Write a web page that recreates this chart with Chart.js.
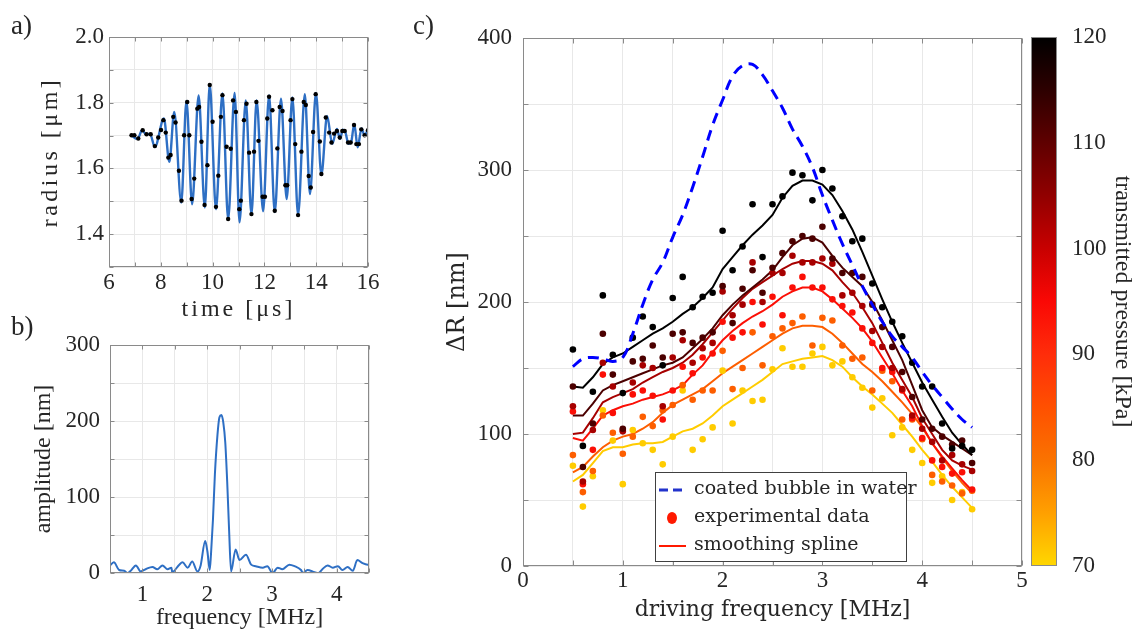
<!DOCTYPE html>
<html><head><meta charset="utf-8">
<script src="https://cdn.jsdelivr.net/npm/chart.js@4.4.1/dist/chart.umd.min.js"></script>
<style>
html,body{margin:0;padding:0;background:#fff;width:1137px;height:631px;overflow:hidden}
canvas{position:absolute;left:0;top:0}
.lab{position:absolute;font-family:'Liberation Serif',serif;font-size:27px;color:#262626;line-height:1}
</style></head><body>
<canvas id="ca" width="1137" height="631"></canvas>
<canvas id="cb" width="1137" height="631"></canvas>
<canvas id="cc" width="1137" height="631"></canvas>
<canvas id="cbar" width="1137" height="631"></canvas>
<div class="lab" style="left:11px;top:12px">a)</div>
<div class="lab" style="left:11px;top:313px">b)</div>
<div class="lab" style="left:413px;top:12px">c)</div>
<script>
// ================= DATA =================
// ---- panel a: radius-time curve ----
const aSampleTime = [6.87,6.98,7.13,7.30,7.45,7.61,7.77,7.90,8.01,8.10,8.19,8.29,8.38,8.48,8.57,8.70,8.80,8.90,9.02,9.10,9.19,9.29,9.41,9.48,9.57,9.69,9.80,9.89,10.00,10.13,10.22,10.32,10.38,10.54,10.60,10.70,10.79,10.90,11.03,11.09,11.21,11.31,11.41,11.50,11.60,11.69,11.77,11.93,12.02,12.11,12.18,12.31,12.40,12.50,12.59,12.70,12.81,12.88,13.01,13.08,13.19,13.30,13.43,13.52,13.60,13.71,13.79,13.88,13.98,14.14,14.20,14.37,14.50,14.59,14.69,14.80,14.91,15.01,15.10,15.23,15.33,15.46,15.55,15.65,15.74,15.87,16.00];
const aSampleRadius = [1.701,1.701,1.691,1.716,1.704,1.704,1.668,1.694,1.717,1.747,1.709,1.633,1.641,1.757,1.740,1.593,1.502,1.701,1.802,1.701,1.507,1.569,1.782,1.787,1.681,1.489,1.610,1.854,1.742,1.483,1.578,1.757,1.823,1.666,1.446,1.660,1.807,1.772,1.476,1.502,1.747,1.797,1.648,1.461,1.651,1.802,1.684,1.514,1.514,1.752,1.818,1.777,1.471,1.661,1.787,1.775,1.549,1.549,1.747,1.811,1.674,1.458,1.651,1.802,1.793,1.577,1.542,1.711,1.826,1.682,1.583,1.755,1.709,1.679,1.706,1.714,1.694,1.714,1.714,1.679,1.679,1.732,1.674,1.674,1.719,1.701,1.716];
const aFitTime = [6.87,7.10,7.28,7.45,7.58,7.77,8.12,8.33,8.52,8.79,8.99,9.21,9.46,9.70,9.89,10.13,10.38,10.60,10.85,11.04,11.28,11.50,11.70,11.95,12.18,12.40,12.64,12.86,13.08,13.30,13.56,13.76,13.99,14.20,14.42,14.62,14.80,14.92,15.03,15.12,15.25,15.35,15.47,15.60,15.75,15.87,16.00];
const aFitRadius = [1.700,1.690,1.716,1.702,1.706,1.665,1.752,1.620,1.772,1.496,1.805,1.491,1.822,1.481,1.856,1.476,1.828,1.445,1.830,1.436,1.807,1.460,1.807,1.470,1.822,1.467,1.812,1.507,1.816,1.458,1.826,1.522,1.830,1.580,1.760,1.675,1.720,1.690,1.718,1.712,1.675,1.680,1.735,1.664,1.722,1.700,1.720];
const aTimeTicks = ['6','8','10','12','14','16'];
const aRadiusTicks = ['1.4','1.6','1.8','2.0'];

// ---- panel b: spectrum ----
const bFreq = [0.49,0.56,0.64,0.72,0.77,0.82,0.90,0.975,1.05,1.155,1.23,1.31,1.39,1.45,1.46,1.57,1.62,1.70,1.77,1.85,1.90,1.97,2.005,2.04,2.06,2.09,2.12,2.16,2.19,2.22,2.25,2.28,2.31,2.34,2.37,2.44,2.50,2.60,2.68,2.75,2.86,2.93,3.01,3.09,3.16,3.27,3.35,3.45,3.48,3.55,3.66,3.72,3.78,3.86,3.94,4.02,4.09,4.17,4.25,4.32,4.40,4.48,4.5];
const bAmp = [9,14,4,3,0,3,10,2,5,8,5,10,5,7,1,11,14,7,15,2,10,42,28,4,25,70,130,182,205,208,198,172,120,55,2,31,17,24,11,9,7,9,0,7,5,11,9,4,0,4,1,0,5,10,7,9,4,8,3,17,13,11,12];
const bFreqTicks = ['1','2','3','4'];
const bAmpTicks = ['0','100','200','300'];

// ---- panel c: amplitude vs driving frequency ----
const cFreq = [0.5,0.6,0.7,0.8,0.9,1.0,1.1,1.2,1.3,1.4,1.5,1.6,1.7,1.8,1.9,2.0,2.1,2.2,2.3,2.4,2.5,2.6,2.7,2.8,2.9,3.0,3.1,3.2,3.3,3.4,3.5,3.6,3.7,3.8,3.9,4.0,4.1,4.2,4.3,4.4,4.5];
const cPressure = [120,112,103,94,83,71]; // kPa, one per series
const cDots120 = [164,91,132,205,160,131,173,189,181,152,203,219,196,204,207,254,224,242,274,234,274,280,298,296,277,300,286,265,246,248,214,196,185,174,154,136,136,108,89,91,88];
const cDots112 = [136,75,108,176,145,104,155,157,167,158,176,177,169,173,177,212,184,210,224,207,226,237,246,250,248,257,233,222,222,219,198,181,166,147,128,111,104,98,92,95,78];
const cDots103 = [121,64,103,154,136,102,139,152,150,121,158,171,154,165,169,208,190,198,230,200,222,222,235,230,230,233,229,205,207,197,178,166,150,134,114,104,94,80,84,77,72];
const cDots94  = [117,62,88,145,116,103,130,133,129,111,133,151,146,158,161,185,173,177,200,183,204,190,211,219,211,211,202,197,192,180,169,150,147,133,112,97,80,75,70,71,58];
const cDots83  = [84,56,72,114,101,85,98,113,106,118,122,137,126,133,133,163,134,150,177,152,174,180,184,189,167,188,186,167,157,158,133,148,140,111,111,96,69,64,61,55,57];
const cDots71  = [76,45,68,118,95,62,103,93,88,77,98,133,88,96,105,148,108,133,125,126,149,165,151,151,161,166,152,155,143,135,120,127,99,105,88,78,63,68,50,56,43];
const cSpline120 = [136,135,143,153,158,161,166,171,176,180,185,191,196,203,211,225,234,243,251,258,266,279,288,292,292,289,281,269,255,238,220,202,185,169,154,139,126,113,101,92,84];
const cSpline112 = [114,114,123,133,137,140,143,146,149,152,154,158,165,172,180,190,198,205,211,217,224,234,243,248,249,245,235,226,219,212,200,186,171,156,137,118,105,99,94,89,84];
const cSpline103 = [100,101,112,124,128,131,134,139,143,147,150,154,160,168,177,186,195,203,210,215,220,225,229,231,231,229,224,215,207,196,184,169,154,141,128,112,100,88,80,76,73];
const cSpline94  = [97,95,104,114,118,121,123,126,128,130,133,137,145,152,162,171,178,184,189,193,198,204,208,211,211,208,202,195,188,180,170,158,146,133,121,106,93,83,74,65,57];
const cSpline83  = [71,75,83,90,95,98,100,104,109,116,122,126,130,134,140,146,151,156,161,166,171,176,180,182,182,181,176,169,161,153,147,140,132,124,115,105,93,82,72,63,55];
const cSpline71  = [64,69,78,87,90,90,92,93,93,94,98,102,104,108,114,121,126,131,136,141,147,153,155,157,158,159,156,151,143,136,130,123,116,107,98,88,79,69,60,52,44];
const cCoated = [151,157,158,157,155,158,176,198,217,230,249,266,287,310,334,353,371,379,380,372,360,347,331,318,302,281,262,244,228,212,198,185,174,166,158,147,137,128,119,111,105];
const cFreqTicks = ['0','1','2','3','4','5'];
const cAmpTicks = ['0','100','200','300','400'];
const cbarTicks = [70,80,90,100,110,120];
const legendLabels = ['coated bubble in water','experimental data','smoothing spline'];

// ================= STYLE =================
const SERIF = "'Liberation Serif', serif";
const SERIF2 = "'DejaVu Serif', serif";
const TXT = '#262626';
const GRID = '#e8e8e8';
const AXC = '#8a8a8a';
const BLUE_A = '#2e6fc4';
const colormap = [[70,[255,215,0]],[75,[255,160,0]],[80,[250,115,0]],[85,[255,80,0]],[90,[255,45,10]],[95,[250,8,5]],[100,[200,0,0]],[105,[145,0,0]],[110,[95,0,0]],[115,[45,0,0]],[120,[0,0,0]]];
function cmap(p){
  for(let i=0;i<colormap.length-1;i++){
    const [p0,c0]=colormap[i],[p1,c1]=colormap[i+1];
    if(p>=p0&&p<=p1){const t=(p-p0)/(p1-p0);return 'rgb('+c0.map((v,k)=>Math.round(v+(c1[k]-v)*t)).join(',')+')';}
  }
  return p<70?'rgb(255,215,0)':'rgb(0,0,0)';
}
function fmtLabels(list, fmt){ return v => { const s = fmt(v); return list.includes(s) ? s : ''; }; }

const boxPlugin = {
  id:'box',
  afterDatasetsDraw(chart, args, opts){
    const {ctx, chartArea:a} = chart;
    ctx.save();
    ctx.strokeStyle = AXC; ctx.lineWidth = 1;
    const L=Math.round(a.left)+0.5, T=Math.round(a.top)+0.5, R=Math.round(a.right)-0.5, B=Math.round(a.bottom)-0.5;
    ctx.strokeRect(L,T,R-L,B-T);
    const tl = opts.tick || 4;
    ctx.beginPath();
    const xs = chart.scales.x, ys = chart.scales.y;
    xs.ticks.forEach(t=>{const p=Math.round(xs.getPixelForValue(t.value))+0.5; ctx.moveTo(p,B); ctx.lineTo(p,B-tl); ctx.moveTo(p,T); ctx.lineTo(p,T+tl);});
    ys.ticks.forEach(t=>{const p=Math.round(ys.getPixelForValue(t.value))+0.5; ctx.moveTo(L,p); ctx.lineTo(L+tl,p); ctx.moveTo(R,p); ctx.lineTo(R-tl,p);});
    ctx.stroke();
    ctx.restore();
  }
};

function axis(opts){
  return Object.assign({
    type:'linear',
    grid:{color:GRID, drawTicks:false, lineWidth:1},
    border:{display:false},
  }, opts);
}
const common = {responsive:false, animation:false, events:[], plugins:{legend:{display:false}, tooltip:{enabled:false}}};

// ================= PANEL A =================
const chartA = new Chart(document.getElementById('ca'), {
  type:'scatter',
  data:{datasets:[
    {data:aSampleTime.map((t,i)=>({x:t,y:aSampleRadius[i]})), pointRadius:2.2, pointBackgroundColor:'#000', pointBorderWidth:0, showLine:false},
    {data:aFitTime.map((t,i)=>({x:t,y:aFitRadius[i]})), showLine:true, borderColor:BLUE_A, borderWidth:2.4, pointRadius:0, cubicInterpolationMode:'monotone'}
  ]},
  options:Object.assign({}, common, {
    layout:{padding:{left:36.6, top:37, right:1137-368, bottom:631-324.4}},
    plugins:{legend:{display:false}, tooltip:{enabled:false}, box:{tick:4}},
    scales:{
      x:axis({min:6,max:16,ticks:{stepSize:1,autoSkip:false,maxRotation:0,padding:2,color:TXT,font:{family:SERIF,size:23},callback:fmtLabels(aTimeTicks,v=>String(Math.round(v)))},
        title:{display:true,text:'time [μs]',color:TXT,font:{family:SERIF,size:24},padding:0},
        afterFit:s=>{s.height=57.4;}}),
      y:axis({min:1.3,max:2.0,ticks:{stepSize:0.1,autoSkip:false,padding:5,color:TXT,font:{family:SERIF,size:23},callback:fmtLabels(aRadiusTicks,v=>v.toFixed(1))},
        title:{display:true,text:'radius [μm]',color:TXT,font:{family:SERIF,size:24},padding:0},
        afterFit:s=>{s.width=72.4;}})
    }
  }),
  plugins:[boxPlugin]
});
['x','y'].forEach(id=>{
  const s = chartA.scales[id]; const orig = s.drawTitle;
  s.drawTitle = function(){ const c=this.ctx; c.save(); c.letterSpacing = id==='y'?'3.5px':'3px'; orig.apply(this, arguments); c.restore(); };
});
chartA.draw();

// ================= PANEL B =================
new Chart(document.getElementById('cb'), {
  type:'scatter',
  data:{datasets:[
    {data:bFreq.map((f,i)=>({x:f,y:bAmp[i]})), showLine:true, borderColor:BLUE_A, borderWidth:2, pointRadius:0, cubicInterpolationMode:'monotone'}
  ]},
  options:Object.assign({}, common, {
    layout:{padding:{left:29.6, top:345, right:1137-369, bottom:0}},
    plugins:{legend:{display:false}, tooltip:{enabled:false}, box:{tick:4}},
    scales:{
      x:axis({min:0.5,max:4.5,ticks:{stepSize:0.5,autoSkip:false,maxRotation:0,padding:8,color:TXT,font:{family:SERIF,size:23},callback:fmtLabels(bFreqTicks,v=>String(v))},
        title:{display:true,text:'frequency [MHz]',color:TXT,font:{family:SERIF,size:24},padding:{top:0,bottom:-1}},
        afterFit:s=>{s.height=58;}}),
      y:axis({min:0,max:300,ticks:{stepSize:50,autoSkip:false,padding:10,color:TXT,font:{family:SERIF,size:23},callback:fmtLabels(bAmpTicks,v=>String(v))},
        title:{display:true,text:'amplitude [nm]',color:TXT,font:{family:SERIF,size:24},padding:0},
        afterFit:s=>{s.width=80.4;}})
    }
  }),
  plugins:[boxPlugin]
});

// ================= PANEL C =================
const dotSets = [cDots120,cDots112,cDots103,cDots94,cDots83,cDots71];
const splineSets = [cSpline120,cSpline112,cSpline103,cSpline94,cSpline83,cSpline71];
const toXY = arr => cFreq.map((f,i)=>({x:f,y:arr[i]}));
const cDatasets = [];
cDatasets.push({label:legendLabels[0], data:toXY(cCoated), showLine:true, borderColor:'#0000ff', borderWidth:3, borderDash:[11,7], pointRadius:0, tension:0.4});
dotSets.forEach((d,i)=>cDatasets.push({label:legendLabels[1], data:toXY(d), showLine:false, pointRadius:3.3, pointBorderWidth:0, pointBackgroundColor:cmap(cPressure[i])}));
splineSets.forEach((d,i)=>cDatasets.push({label:legendLabels[2], data:toXY(d), showLine:true, borderColor:cmap(cPressure[i]), borderWidth:2, pointRadius:0, tension:0}));

const legendPlugin = {
  id:'boxLegend',
  afterDraw(chart){
    const {ctx} = chart;
    ctx.save();
    ctx.fillStyle='#fff'; ctx.fillRect(655,472,251,89);
    ctx.strokeStyle='#404040'; ctx.lineWidth=1; ctx.strokeRect(655.5,472.5,251,89);
    const red = 'rgb(255,25,0)';
    ctx.strokeStyle='#2233cc'; ctx.lineWidth=3; ctx.setLineDash([9,5]);
    ctx.beginPath(); ctx.moveTo(659,490); ctx.lineTo(686,490); ctx.stroke();
    ctx.setLineDash([]);
    ctx.fillStyle=red; ctx.beginPath(); ctx.ellipse(672,518,5,6,0,0,Math.PI*2); ctx.fill();
    ctx.strokeStyle=red; ctx.lineWidth=2; ctx.beginPath(); ctx.moveTo(659,546); ctx.lineTo(686,546); ctx.stroke();
    ctx.fillStyle=TXT; ctx.font="19px "+SERIF2; ctx.textBaseline='middle'; ctx.textAlign='left';
    ctx.fillText(legendLabels[0],694,489);
    ctx.fillText(legendLabels[1],694,517);
    ctx.fillText(legendLabels[2],694,545);
    ctx.restore();
  }
};

new Chart(document.getElementById('cc'), {
  type:'scatter',
  data:{datasets:cDatasets},
  options:Object.assign({}, common, {
    layout:{padding:{left:443.8, top:38, right:1137-1022, bottom:7.8}},
    plugins:{legend:{display:false}, tooltip:{enabled:false}, box:{tick:5}},
    scales:{
      x:axis({min:0,max:5,ticks:{stepSize:0.5,autoSkip:false,maxRotation:0,padding:1.5,color:TXT,font:{family:SERIF,size:23},callback:fmtLabels(cFreqTicks,v=>String(v))},
        title:{display:true,text:'driving frequency [MHz]',color:TXT,font:{family:SERIF2,size:22},padding:0},
        afterFit:s=>{s.height=57.2;}}),
      y:axis({min:0,max:400,ticks:{stepSize:50,autoSkip:false,padding:11,color:TXT,font:{family:SERIF,size:23},callback:fmtLabels(cAmpTicks,v=>String(v))},
        title:{display:true,text:'ΔR [nm]',color:TXT,font:{family:SERIF2,size:24},padding:0},
        afterFit:s=>{s.width=79.2;}})
    }
  }),
  plugins:[boxPlugin, legendPlugin]
});

// ================= COLORBAR =================
const cbarPlugin = {
  id:'cbar',
  beforeDatasetsDraw(chart){
    const {ctx, chartArea:a} = chart;
    const ys = chart.scales.y;
    const g = ctx.createLinearGradient(0, a.bottom, 0, a.top);
    colormap.forEach(([p,c])=>g.addColorStop((p-ys.min)/(ys.max-ys.min), 'rgb('+c.join(',')+')'));
    ctx.save();
    ctx.fillStyle=g; ctx.fillRect(a.left, a.top, a.right-a.left, a.bottom-a.top);
    ctx.strokeStyle=AXC; ctx.lineWidth=1;
    ctx.strokeRect(Math.round(a.left)+0.5, Math.round(a.top)+0.5, Math.round(a.right-a.left)-1, Math.round(a.bottom-a.top)-1);
    ctx.restore();
  }
};
new Chart(document.getElementById('cbar'), {
  type:'scatter',
  data:{datasets:[]},
  options:Object.assign({}, common, {
    layout:{padding:{left:1031, top:37, right:0.6, bottom:631-566}},
    scales:{
      x:{display:false, min:0, max:1},
      y:{type:'linear', position:'right', min:70, max:120,
        afterBuildTicks:s=>{s.ticks = cbarTicks.map(v=>({value:v}));},
        ticks:{autoSkip:false, padding:7, color:TXT, font:{family:SERIF,size:23}},
        grid:{display:false}, border:{display:false},
        title:{display:true,text:'transmitted pressure [kPa]',color:TXT,font:{family:SERIF,size:24},padding:0},
        afterFit:s=>{s.width=79.4;}}
    }
  }),
  plugins:[cbarPlugin]
});
</script>
</body></html>
